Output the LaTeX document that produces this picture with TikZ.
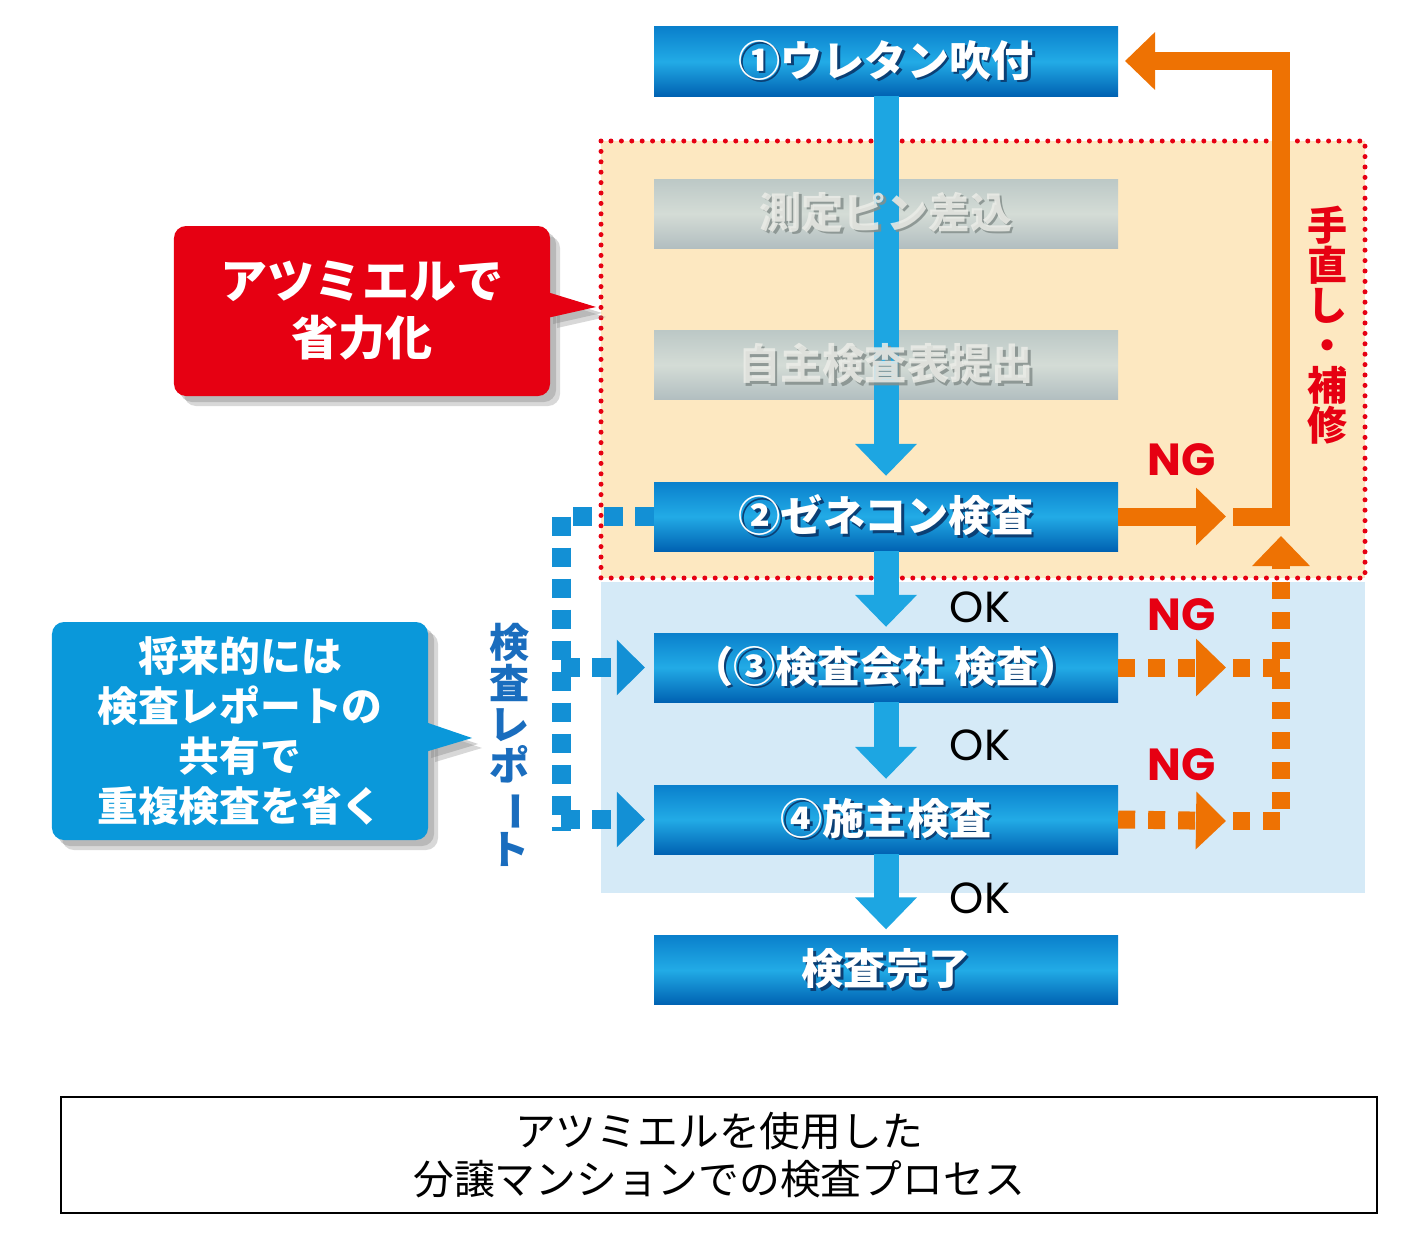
\documentclass[tikz,border=0pt]{standalone}
\usepackage{fontspec}
\usetikzlibrary{arrows.meta,shadows,calc}
\newfontfamily\jp{Noto Sans CJK JP}
\newfontfamily\lat{Poppins}
\newcommand\sh[2]{\rlap{\hspace{1.3mm}\raisebox{-1.3mm}{\textcolor{#1}{#2}}}#2}

\begin{document}
\begin{tikzpicture}[x=0.5mm,y=-0.5mm,
    stepbox/.style={minimum width=232mm,minimum height=34.5mm,inner sep=0pt,
      top color=stepTop,bottom color=stepBot,middle color=stepMid,
      text=white,font=\jp\bfseries\fontsize{60}{60}\selectfont},
    greybox/.style={minimum width=232mm,minimum height=34.5mm,inner sep=0pt,
      top color=greyTop,bottom color=greyBot,middle color=greyMid},
    greytxt/.style={text=greyTxt,font=\jp\bfseries\fontsize{60}{60}\selectfont},
    flow/.style={draw=flowBlue,line width=12.5mm,shorten >=3mm,-{Triangle[width=30mm,length=16mm]}},
    fix/.style={draw=fixOrange,line width=9mm,-{Triangle[width=28mm,length=15mm]}},
    fixdots/.style={fix,dash pattern=on 8.5mm off 6.5mm},
    report/.style={draw=repBlue,line width=9.5mm,dash pattern=on 9.5mm off 6mm,-{Triangle[width=27mm,length=14mm]}},
    ng/.style={text=ngRed,font=\lat\bfseries\fontsize{64}{64}\selectfont},
    ok/.style={font=\lat\fontsize{62}{62}\selectfont},
    note/.style={rounded corners=6mm,text=white,align=center,minimum width=188mm,inner sep=0pt},
    noteshadow/.style={drop shadow={shadow xshift=3mm,shadow yshift=-3mm,opacity=.35},
      drop shadow={shadow xshift=5mm,shadow yshift=-5mm,opacity=.3}},
    vtext/.style={align=center,inner sep=0pt,font=\jp\bfseries\fontsize{57}{57}\selectfont},
  ]
    \definecolor{stepTop}{HTML}{0A80CC}
    \definecolor{stepMid}{HTML}{22ABE6}
    \definecolor{stepBot}{HTML}{0062B2}
    \definecolor{stepShade}{HTML}{0B3F74}
    \definecolor{greyTop}{HTML}{BCC8C6}
    \definecolor{greyMid}{HTML}{D4DCD6}
    \definecolor{greyBot}{HTML}{B2BEC0}
    \definecolor{greyTxt}{HTML}{ECEDE8}
    \definecolor{greyShade}{HTML}{858F8C}
    \definecolor{flowBlue}{HTML}{1DA6E2}
    \definecolor{fixOrange}{HTML}{EE7203}
    \definecolor{repBlue}{HTML}{1390D5}
    \definecolor{ngRed}{HTML}{E60012}
    \definecolor{zoneYellow}{HTML}{FDE8C1}
    \definecolor{zoneBlue}{HTML}{D5EAF7}
    \definecolor{noteRed}{HTML}{E60012}
    \definecolor{noteBlue}{HTML}{0A98DA}
    \definecolor{vBlue}{HTML}{1A6DBE}
    \fill[white] (0,0) rectangle (1420,1251);
    \useasboundingbox (0,0) rectangle (1420,1251);
    % zones
    \fill[zoneYellow] (601,141) rectangle (1365,578);
    \fill[zoneBlue] (601,582) rectangle (1365,893);
    \draw[ngRed,line width=2.5mm,line cap=round,dash pattern=on 0mm off 5.2mm] (601,141) rectangle (1365,578);
    % steps
    \node[stepbox] (b1) at (886,61.5) {\sh{stepShade}{①ウレタン吹付}};
    \node[greybox] (pin) at (886,213.5) {};
    \node[greybox] (self) at (886,365) {};
    \node[stepbox] (b2) at (886,516.5) {\sh{stepShade}{②ゼネコン検査}};
    \node[stepbox] (b3) at (886,667.5) {\sh{stepShade}{（③検査会社 検査）}};
    \node[stepbox] (b4) at (886,819.5) {\sh{stepShade}{④施主検査}};
    \node[stepbox] (done) at (886,970) {\sh{stepShade}{検査完了}};
    \draw[flow] (b1.south) -- (b2.north);
    \node[greytxt,opacity=.85] (pintxt) at (pin) {\sh{greyShade}{測定ピン差込}};
    \node[greytxt,opacity=.85] (selftxt) at (self) {\sh{greyShade}{自主検査表提出}};
    \draw[flow] (b2.south) -- (b3.north);
    \draw[flow] (b3.south) -- (b4.north);
    \draw[flow] (b4.south) -- (done.north);
    \node[ok] (ok2) at (980,607) {OK};
    \node[ok] (ok3) at (980,745) {OK};
    \node[ok] (ok4) at (980,898) {OK};
    % NG routes
    \coordinate (ng2) at (1226,516.5);
    \coordinate (ng2s) at (1233,516.5);
    \coordinate (rc) at (1281,516.5);
    \coordinate (rt) at (1281,61);
    \coordinate (ret) at (1125,61);
    \coordinate (ng3) at (1226,667.5);
    \coordinate (ng3s) at (1233,667.5);
    \coordinate (ng3e) at (1290,667.5);
    \coordinate (ng4) at (1226,821);
    \coordinate (ng4s) at (1233,821);
    \coordinate (upc) at (1281,821);
    \coordinate (upt) at (1281,536);
    \draw[fix] (b2.east) -- (ng2);
    \draw[fix] (ng2s) -- (rc) -- (rt) -- (ret);
    \draw[fixdots] (b3.east) -- (ng3);
    \draw[fixdots,-] (ng3s) -- (ng3e);
    \draw[fixdots] (b4.east) -- (ng4);
    \draw[fixdots] (ng4s) -- (upc) -- (upt);
    \node[ng] (ng2l) at (1182,460) {NG};
    \node[ng] (ng3l) at (1182,615) {NG};
    \node[ng] (ng4l) at (1182,765) {NG};
    \node[vtext,text=ngRed] (fixlbl) at (1328,325) {手\\直\\し\\・\\補\\修};
    % report sharing
    \coordinate (repTop) at (561,516.5);
    \coordinate (repBot) at (561,831);
    \draw[report,-] (b2.west) -- (repTop) -- (repBot);
    \draw[report,shorten >=4.5mm] (repTop |- b3) -- (b3.west);
    \draw[report,shorten >=4.5mm] (repTop |- b4) -- (b4.west);
    \node[vtext,text=vBlue,font=\jp\bfseries\fontsize{57}{58}\selectfont] (replbl) at (510,745) {検\\査\\レ\\ポ\\\rotatebox[origin=c]{-90}{ー}\\ト};
    % callouts
    \node[note,fill=noteRed,minimum height=85mm,noteshadow,
      font=\jp\bfseries\fontsize{67}{81}\selectfont] (saving) at (362,311) {アツミエルで\\省力化};
    \coordinate (savTip) at (596,307);
    \fill[noteRed,noteshadow] ($(saving.east)+(-3,-19)$) -- (savTip) -- ($(saving.east)+(-3,7)$) -- cycle;
    \node[note,fill=noteBlue,minimum height=109mm,noteshadow,
      font=\jp\bfseries\fontsize{58}{71}\selectfont] (future) at (240,731) {将来的には\\検査レポートの\\共有で\\重複検査を省く};
    \coordinate (futTip) at (472,738);
    \fill[noteBlue,noteshadow] ($(future.east)+(-3,-9)$) -- (futTip) -- ($(future.east)+(-3,21)$) -- cycle;
    % caption
    \node[draw,line width=.75mm,minimum width=658mm,minimum height=58mm,align=center,
      font=\jp\fontsize{58}{68}\selectfont] (caption) at (719,1155) {アツミエルを使用した\\分譲マンションでの検査プロセス};
\end{tikzpicture}
\end{document}
